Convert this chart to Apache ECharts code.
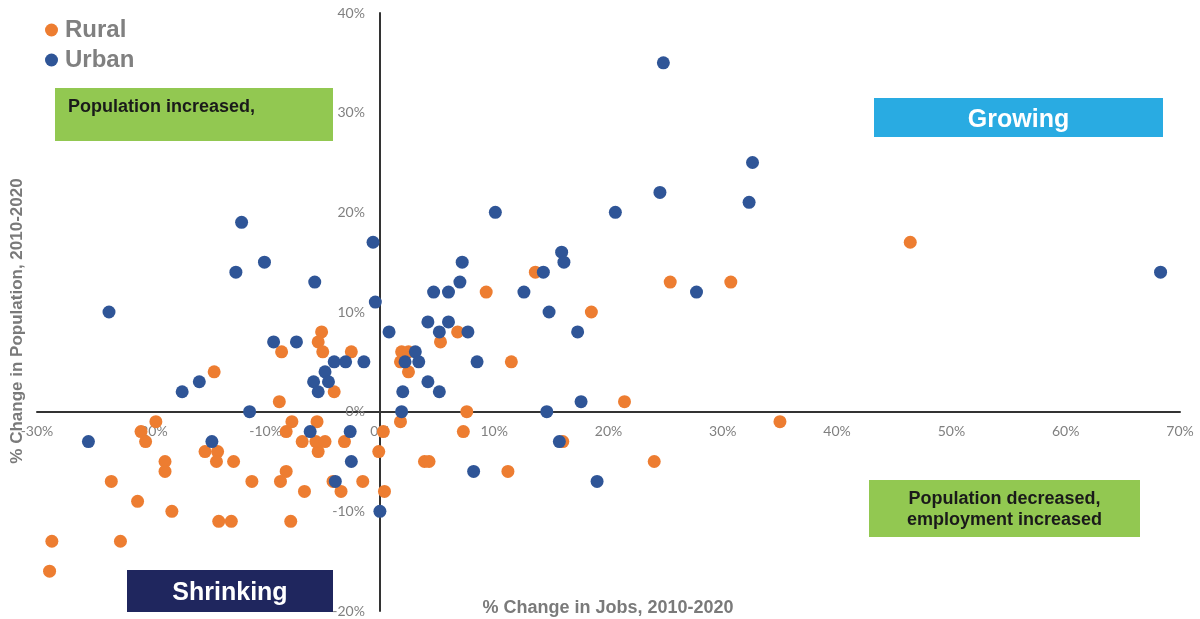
<!DOCTYPE html>
<html>
<head>
<meta charset="utf-8">
<script src="https://cdn.jsdelivr.net/npm/echarts@6/dist/echarts.min.js"></script>
<style>
  html, body { margin: 0; padding: 0; background: #fff; }
  #chart { width: 1200px; height: 619px; }
</style>
</head>
<body>
<div id="chart"></div>
<script>
// % change in jobs (x) and % change in population (y), 2010-2020
const ruralPoints = [
  [46.4, 17], [30.7, 13], [25.4, 13], [13.6, 14], [9.3, 12], [18.5, 10],
  [6.8, 8], [5.3, 7], [1.9, 6], [2.5, 6], [1.8, 5], [11.5, 5], [2.5, 4],
  [21.4, 1], [7.6, 0], [1.8, -1], [35.0, -1], [7.3, -2], [16.0, -3],
  [3.9, -5], [4.3, -5], [24.0, -5], [11.2, -6], [0.3, -2], [-0.1, -4],
  [0.4, -8], [-1.5, -7], [-3.4, -8], [-4.1, -7], [-6.6, -8], [-8.7, -7],
  [-8.2, -6], [-7.8, -11], [-5.4, -4], [-6.8, -3], [-5.6, -3], [-4.8, -3],
  [-3.1, -3], [-8.2, -2], [-7.7, -1], [-5.5, -1], [-8.8, 1], [-4.0, 2],
  [-8.6, 6], [-5.1, 8], [-5.4, 7], [-5.0, 6], [-2.5, 6], [-14.5, 4],
  [-19.6, -1], [-20.9, -2], [-20.5, -3], [-15.3, -4], [-14.2, -4],
  [-14.3, -5], [-12.8, -5], [-18.8, -5], [-18.8, -6], [-23.5, -7],
  [-21.2, -9], [-18.2, -10], [-14.1, -11], [-13.0, -11], [-11.2, -7],
  [-28.7, -13], [-22.7, -13], [-28.9, -16]
]

const urbanPoints = [
  [24.8, 35], [32.6, 25], [32.3, 21], [24.5, 22], [20.6, 20], [10.1, 20],
  [-12.1, 19], [-0.6, 17], [15.9, 16], [16.1, 15], [-10.1, 15], [-12.6, 14],
  [7.2, 15], [14.3, 14], [68.3, 14], [-5.7, 13], [7.0, 13], [12.6, 12],
  [27.7, 12], [4.7, 12], [6.0, 12], [-0.4, 11], [-23.7, 10], [14.8, 10],
  [0.8, 8], [4.2, 9], [6.0, 9], [5.2, 8], [7.7, 8], [17.3, 8], [-9.3, 7],
  [-7.3, 7], [3.1, 6], [2.2, 5], [3.4, 5], [8.5, 5], [4.2, 3], [2.0, 2],
  [5.2, 2], [17.6, 1], [14.6, 0], [1.9, 0], [15.7, -3], [8.2, -6],
  [19.0, -7], [-4.0, 5], [-3.0, 5], [-1.4, 5], [-4.8, 4], [-5.8, 3],
  [-4.5, 3], [-5.4, 2], [-15.8, 3], [-17.3, 2], [-11.4, 0], [-25.5, -3],
  [-14.7, -3], [-6.1, -2], [-2.6, -2], [-2.5, -5], [-3.9, -7], [0, -10]
]

const seriesNames = ['Rural', 'Urban']
const seriesColors = ['#ED7D31', '#2F5597']

const xRange = { min: -30, max: 70, interval: 10 }
const yRange = { min: -20, max: 40, interval: 10 }

// plot area in pixels; the axes cross at (0%, 0%)
const plot = { left: 37, right: 20, top: 13, bottom: 8, width: 1143, height: 598 }
const xCross = plot.left + plot.width * (0 - xRange.min) / (xRange.max - xRange.min)
const yCross = plot.top + plot.height * (yRange.max - 0) / (yRange.max - yRange.min)

const chart = echarts.init(document.getElementById('chart'))

const labelGray = '#808080'
const titleGray = '#7a7a7a'
const boldFont = 'Liberation Sans, Arial, sans-serif'

// quadrant annotation boxes
function box(x, y, w, h, fill, text, textColor, fontSize, align, dy) {
  const left = align === 'left'
  return {
    type: 'group',
    left: x,
    top: y,
    z: 10,
    children: [
      { type: 'rect', shape: { x: 0, y: 0, width: w, height: h }, style: { fill } },
      {
        type: 'text',
        x: left ? 13 : w / 2,
        y: (left ? 9 : h / 2) + (dy || 0),
        style: {
          text,
          fill: textColor,
          font: `bold ${fontSize}px ${boldFont}`,
          align: left ? 'left' : 'center',
          verticalAlign: left ? 'top' : 'middle',
          lineHeight: 21
        }
      }
    ]
  }
}

const option = {
  animation: false,
  backgroundColor: '#fff',
  grid: {
    left: plot.left, right: plot.right, top: plot.top, bottom: plot.bottom,
    containLabel: false, outerBoundsMode: 'none'
  },
  legend: {
    orient: 'vertical',
    left: 40,
    top: 13,
    itemWidth: 13,
    itemHeight: 13,
    itemGap: 6,
    icon: 'circle',
    data: seriesNames,
    textStyle: {
      color: labelGray,
      fontSize: 24,
      fontWeight: 'bold',
      fontFamily: boldFont,
      lineHeight: 24,
      padding: [0, 0, 0, 2]
    }
  },
  xAxis: {
    type: 'value',
    min: xRange.min,
    max: xRange.max,
    interval: xRange.interval,
    position: 'bottom',
    offset: -(plot.top + plot.height - yCross),
    axisLine: { onZero: false, lineStyle: { color: '#333', width: 2 } },
    axisTick: { show: false },
    splitLine: { show: false },
    axisLabel: {
      formatter: '{value}%',
      color: labelGray,
      fontSize: 14,
      fontFamily: 'Lato, sans-serif',
      margin: 13
    }
  },
  yAxis: {
    type: 'value',
    min: yRange.min,
    max: yRange.max,
    interval: yRange.interval,
    position: 'left',
    offset: -(xCross - plot.left),
    axisLine: { onZero: false, lineStyle: { color: '#333', width: 2 } },
    axisTick: { show: false },
    splitLine: { show: false },
    axisLabel: {
      formatter: '{value}%',
      color: labelGray,
      fontSize: 14,
      fontFamily: 'Lato, sans-serif',
      margin: 15
    }
  },
  series: [
    {
      name: seriesNames[0],
      type: 'scatter',
      data: ruralPoints,
      symbolSize: 13,
      itemStyle: { color: seriesColors[0], opacity: 1 },
      z: 2
    },
    {
      name: seriesNames[1],
      type: 'scatter',
      data: urbanPoints,
      symbolSize: 13,
      itemStyle: { color: seriesColors[1], opacity: 1 },
      z: 3
    }
  ],
  graphic: [
    box(55, 88, 278, 53, '#92C851', 'Population increased,', '#1a1a1a', 18, 'left'),
    box(874, 98, 289, 39, '#29ABE2', 'Growing', '#ffffff', 25, 'center', 3),
    box(869, 480, 271, 57, '#92C851', 'Population decreased,\nemployment increased', '#1a1a1a', 18, 'center', 1),
    box(127, 570, 206, 42, '#1F265E', 'Shrinking', '#ffffff', 25, 'center', 2),
    {
      type: 'text',
      x: 608,
      y: 608,
      style: {
        text: '% Change in Jobs, 2010-2020',
        fill: titleGray,
        font: `bold 18px ${boldFont}`,
        align: 'center',
        verticalAlign: 'middle'
      }
    },
    {
      type: 'text',
      rotation: Math.PI / 2,
      x: 17,
      y: 321,
      style: {
        text: '% Change in Population, 2010-2020',
        fill: titleGray,
        font: `bold 17px ${boldFont}`,
        align: 'center',
        verticalAlign: 'middle'
      }
    }
  ]
}

chart.setOption(option)
</script>
</body>
</html>
